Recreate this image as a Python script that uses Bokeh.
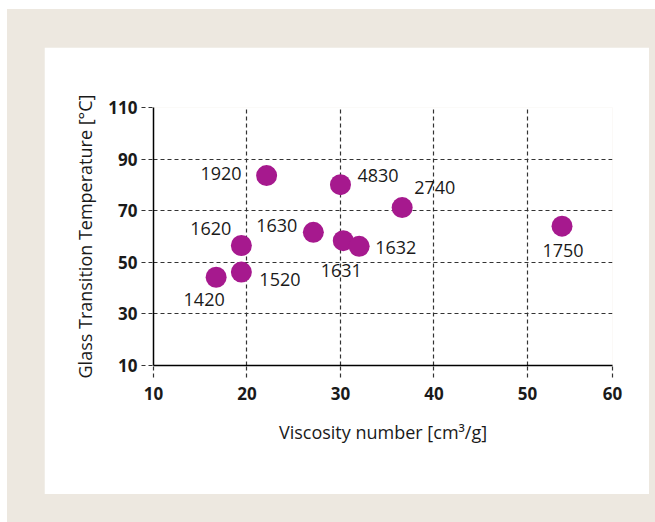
from bokeh.plotting import figure
from bokeh.models import ColumnDataSource, FixedTicker, Range1d
from bokeh.layouts import column
from bokeh.embed import file_html
from bokeh.resources import INLINE
from bokeh.core.properties import value

# data
viscosity = [16.7, 19.4, 19.4, 22.1, 27.1, 30.0, 30.3, 32.0, 36.6, 53.7]
tg = [44.2, 46.2, 56.5, 83.6, 61.6, 80.1, 58.4, 56.2, 71.2, 64.0]
grades = ["1420", "1520", "1620", "1920", "1630", "4830", "1631", "1632", "2740", "1750"]
x_ticks = [10, 20, 30, 40, 50, 59.1]
x_tick_labels = ["10", "20", "30", "40", "50", "60"]
y_ticks = [10, 30, 50, 70, 90, 110]

# label placement (screen offsets)
label_align = ["center", "left", "right", "right", "right", "left", "center", "left", "left", "center"]
label_dx = [-12, 18, -10, -25, -16, 17, -2, 16, 12, 1]
label_dy = [22, 7, -17, -2, -7, -9, 30, 1, -20, 24]

FONT = "Open Sans"
BEIGE = "#EDE8E0"
PURPLE = "#A6198E"
GRID = "#333333"
TXT = "#1a1a1a"

W, H = 605, 447
p = figure(width=W, height=H, output_backend="svg", toolbar_location=None,
           x_range=Range1d(10, 59.1), y_range=Range1d(10, 110),
           min_border_left=109, min_border_right=37, min_border_top=60, min_border_bottom=129)
p.border_fill_color = "white"
p.background_fill_color = "white"
p.outline_line_color = None

p.xaxis.ticker = FixedTicker(ticks=x_ticks)
p.xaxis.major_label_overrides = {t: l for t, l in zip(x_ticks, x_tick_labels)}
p.yaxis.ticker = FixedTicker(ticks=y_ticks)

for ax in (p.xaxis, p.yaxis):
    ax.axis_line_color = "black"
    ax.axis_line_width = 1.5
    ax.major_tick_line_color = GRID
    ax.major_tick_line_width = 1.2
    ax.major_tick_line_dash = "4 3"
    ax.major_tick_in = 0
    ax.major_tick_out = 12
    ax.minor_tick_line_color = None
    ax.major_label_text_font = FONT
    ax.major_label_text_font_style = "bold"
    ax.major_label_text_font_size = "17px"
    ax.major_label_text_color = TXT
    ax.axis_label_text_font = FONT
    ax.axis_label_text_font_style = "normal"
    ax.axis_label_text_font_size = "18px"
    ax.axis_label_text_color = TXT

p.xaxis.axis_label = "Viscosity number [cm³/g]"
p.yaxis.axis_label = "Glass Transition Temperature [°C]"
p.xaxis.major_label_standoff = 9
p.yaxis.major_label_standoff = 4
p.xaxis.axis_label_standoff = 17
p.yaxis.axis_label_standoff = 8

for g in (p.xgrid, p.ygrid):
    g.grid_line_color = GRID
    g.grid_line_width = 1.2
    g.grid_line_dash = "4 3"

src = ColumnDataSource(dict(x=viscosity, y=tg, label=grades,
                            align=label_align, dx=label_dx, dy=label_dy))
p.scatter("x", "y", source=src, size=21, fill_color=PURPLE, line_color=None)
p.text("x", "y", text="label", source=src, text_align="align", text_baseline="middle",
       x_offset="dx", y_offset="dy", text_font=value(FONT), text_font_size="18px",
       text_color=TXT)

layout = column(p, styles={"background-color": BEIGE,
                           "padding": "38px 6px 28px 37px",
                           "margin": "9px 0px 0px 7px"})

open("out.html", "w").write(file_html(layout, INLINE))
